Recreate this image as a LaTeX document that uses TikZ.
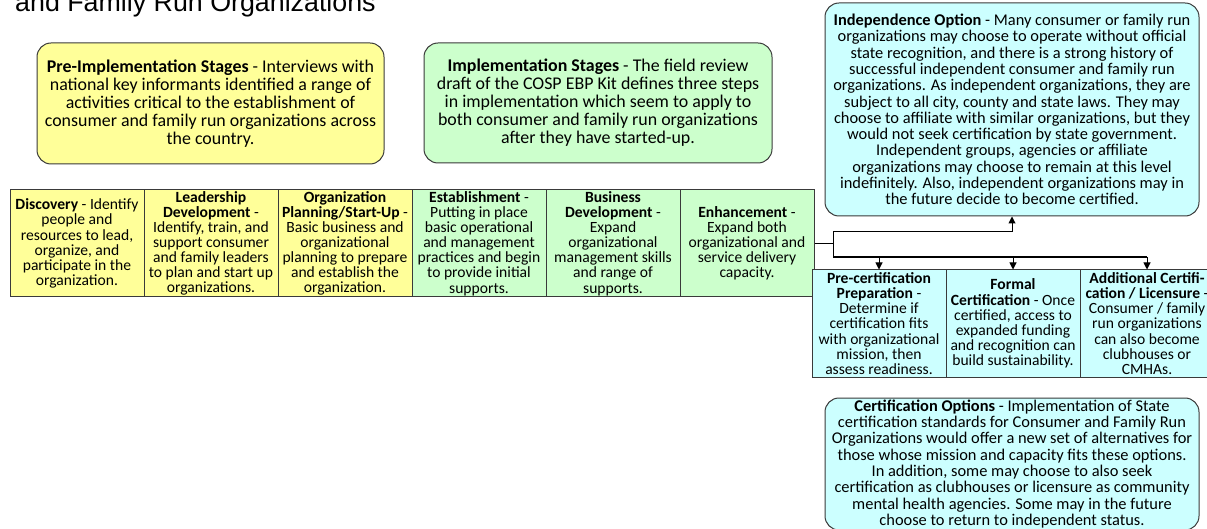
\documentclass[tikz,border=0pt]{standalone}
\usepackage{fontspec}
\setmainfont{Carlito}
\newfontfamily\titlefont{Liberation Sans}
\usetikzlibrary{arrows.meta}
\definecolor{yelc}{HTML}{FFFF99}
\definecolor{grnc}{HTML}{CCFFCC}
\definecolor{cync}{HTML}{CCFFFF}
\definecolor{edgec}{HTML}{3A3A3A}
\begin{document}
\begin{tikzpicture}[x=1pt,y=-1pt,
  rbox/.style={draw=edgec, line width=1pt, rounded corners=14pt, align=center, inner sep=0pt},
  cell/.style={draw=edgec, line width=1pt, align=center, inner sep=0pt, minimum width=134pt, minimum height=107pt, font=\fontsize{15.6}{15.1}\selectfont},
  conn/.style={line width=1pt, draw=black},
  arr/.style={conn, -{Triangle[length=7pt,width=7pt]}}
]
\useasboundingbox (0,0) rectangle (1207,529);
\clip (0,0) rectangle (1207,529);

\node[anchor=base west, inner sep=0pt, font=\titlefont\fontsize{26.8}{30}\selectfont] (title) at (15,12) {and Family Run Organizations};

% top boxes
\node[rbox, fill=yelc, minimum width=347pt, minimum height=121pt, font=\fontsize{17.9}{18}\selectfont] (pre) at (210.5,103.5)
 {\textbf{Pre-Implementation Stages} - Interviews with\\national key informants identified a range of\\activities critical to the establishment of\\consumer and family run organizations across\\the country.};
\node[rbox, fill=grnc, minimum width=348pt, minimum height=120pt, font=\fontsize{17.9}{18}\selectfont] (impl) at (598,103)
 {\textbf{Implementation Stages} - The field review\\draft of the COSP EBP Kit defines three steps\\in implementation which seem to apply to\\both consumer and family run organizations\\after they have started-up.};

% stage cells
\node[cell, fill=yelc] (disc) at (77,243.5)
 {\textbf{Discovery} - Identify\\people and\\resources to lead,\\organize, and\\participate in the\\organization.};
\node[cell, fill=yelc] (lead) at (211,243.5)
 {\textbf{Leadership}\\\textbf{Development} -\\Identify, train, and\\support consumer\\and family leaders\\to plan and start up\\organizations.};
\node[cell, fill=yelc] (plan) at (345,243.5)
 {\textbf{Organization}\\\textbf{Planning/Start-Up} -\\Basic business and\\organizational\\planning to prepare\\and establish the\\organization.};
\node[cell, fill=grnc] (est) at (479,243.5)
 {\textbf{Establishment} -\\Putting in place\\basic operational\\and management\\practices and begin\\to provide initial\\supports.};
\node[cell, fill=grnc] (bus) at (613,243.5)
 {\textbf{Business}\\\textbf{Development} -\\Expand\\organizational\\management skills\\and range of\\supports.};
\node[cell, fill=grnc] (enh) at (747,243.5)
 {\textbf{Enhancement} -\\Expand both\\organizational and\\service delivery\\capacity.};

% independence
\node[rbox, fill=cync, minimum width=374pt, minimum height=213pt, font=\fontsize{16.4}{16.3}\selectfont] (indep) at (1012,109.5)
 {\textbf{Independence Option} - Many consumer or family run\\organizations may choose to operate without official\\state recognition, and there is a strong history of\\successful independent consumer and family run\\organizations. As independent organizations, they are\\subject to all city, county and state laws. They may\\choose to affiliate with similar organizations, but they\\would not seek certification by state government.\\Independent groups, agencies or affiliate\\organizations may choose to remain at this level\\indefinitely. Also, independent organizations may in\\the future decide to become certified.};

% certification cells
\node[cell, fill=cync] (precert) at (879,323.5)
 {\textbf{Pre-certification}\\\textbf{Preparation} -\\Determine if\\certification fits\\with organizational\\mission, then\\assess readiness.};
\node[cell, fill=cync] (formal) at (1013,323.5)
 {\textbf{Formal}\\\textbf{Certification} - Once\\certified, access to\\expanded funding\\and recognition can\\build sustainability.};
\node[cell, fill=cync] (addl) at (1147,323.5)
 {\textbf{Additional Certifi-}\\\textbf{cation / Licensure} -\\Consumer / family\\run organizations\\can also become\\clubhouses or\\CMHAs.};

% certification options
\node[rbox, fill=cync, minimum width=374pt, minimum height=132pt, font=\fontsize{16.4}{16.3}\selectfont] (certopt) at (1012,464)
 {\textbf{Certification Options} - Implementation of State\\certification standards for Consumer and Family Run\\Organizations would offer a new set of alternatives for\\those whose mission and capacity fits these options.\\In addition, some may choose to also seek\\certification as clubhouses or licensure as community\\mental health agencies. Some may in the future\\choose to return to independent status.};

% connectors
\coordinate (j) at (833,243.5);
\coordinate (jt) at (833,231.5);
\coordinate (jb) at (833,257);
\draw[conn] (enh.east) -- (j);
\draw[conn] (jt) -- (jb);
\draw[arr] (jt) -| (indep.south);
\draw[line width=1.8pt] (jb) -- (jb -| addl.north);
\draw[arr] (jb -| precert.north) -- (precert.north);
\draw[arr] (jb -| formal.north) -- (formal.north);
\draw[arr] (jb -| addl.north) -- (addl.north);
\end{tikzpicture}
\end{document}
